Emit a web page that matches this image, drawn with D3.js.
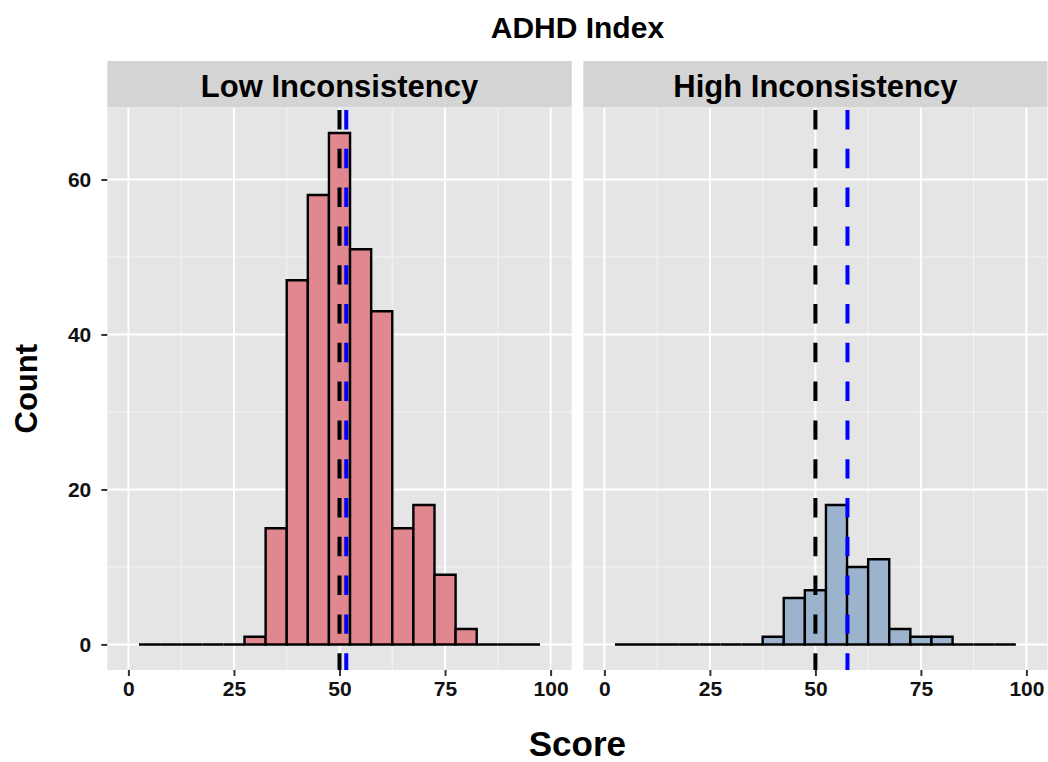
<!DOCTYPE html>
<html>
<head>
<meta charset="utf-8">
<script src="https://cdn.jsdelivr.net/npm/d3@7"></script>
<style>
  body { margin: 0; background: #fff; }
  text { font-family: "Liberation Sans", Arial, Helvetica, sans-serif; font-weight: bold; }
</style>
</head>
<body>
<script>
// histogram bins (width 5), one count per bin for each facet
var binCenters = [5, 10, 15, 20, 25, 30, 35, 40, 45, 50, 55, 60, 65, 70, 75, 80, 85, 90, 95];
var lowCounts  = [0, 0, 0, 0, 0, 1, 15, 47, 58, 66, 51, 43, 15, 18, 9, 2, 0, 0, 0];
var highCounts = [0, 0, 0, 0, 0, 0, 0, 1, 6, 7, 18, 10, 11, 2, 1, 1, 0, 0, 0];
var binWidth = 5;

var facetNames = ['Low Inconsistency', 'High Inconsistency'];
var refLines  = [50, 50];     // black dashed
var meanLines = [51.6, 57.6]; // blue dashed

var xTicks = [0, 25, 50, 75, 100];
var yTicks = [0, 20, 40, 60];

var W = 1048, H = 762;
var svg = d3.select('body').append('svg')
    .attr('width', W)
    .attr('height', H);

var panelTop = 107.4, panelBottom = 670;
var panelsX = [[107.3, 571.7], [583.3, 1047.5]];
var fills = ['#e1878f', '#9bb3cd'];

var y = d3.scaleLinear().domain([-3.3, 69.3]).range([panelBottom, panelTop]);

// title
svg.append('text')
    .attr('x', (panelsX[0][0] + panelsX[1][1]) / 2)
    .attr('y', 38)
    .attr('text-anchor', 'middle')
    .style('font-size', '30px')
    .text('ADHD Index');

facetNames.forEach(function(name, p) {
    var counts = p == 0 ? lowCounts : highCounts;
    var x = d3.scaleLinear().domain([-5, 105]).range(panelsX[p]);
    var g = svg.append('g');

    // strip
    g.append('rect')
        .attr('x', panelsX[p][0]).attr('y', 61)
        .attr('width', panelsX[p][1] - panelsX[p][0]).attr('height', panelTop - 61)
        .style('fill', '#d4d4d4');
    g.append('text')
        .attr('x', (panelsX[p][0] + panelsX[p][1]) / 2)
        .attr('y', 97)
        .attr('text-anchor', 'middle')
        .style('font-size', '31px')
        .text(name);

    // panel background
    g.append('rect')
        .attr('x', panelsX[p][0]).attr('y', panelTop)
        .attr('width', panelsX[p][1] - panelsX[p][0]).attr('height', panelBottom - panelTop)
        .style('fill', '#e5e5e5');

    // minor grid
    [12.5, 37.5, 62.5, 87.5].forEach(function(v) {
        g.append('line')
            .attr('x1', x(v)).attr('x2', x(v)).attr('y1', panelTop).attr('y2', panelBottom)
            .style('stroke', '#f5f5f5').style('stroke-width', 1);
    });
    [10, 30, 50].forEach(function(v) {
        g.append('line')
            .attr('x1', panelsX[p][0]).attr('x2', panelsX[p][1]).attr('y1', y(v)).attr('y2', y(v))
            .style('stroke', '#f5f5f5').style('stroke-width', 1);
    });
    // major grid
    xTicks.forEach(function(v) {
        g.append('line')
            .attr('x1', x(v)).attr('x2', x(v)).attr('y1', panelTop).attr('y2', panelBottom)
            .style('stroke', '#fff').style('stroke-width', 2);
    });
    yTicks.forEach(function(v) {
        g.append('line')
            .attr('x1', panelsX[p][0]).attr('x2', panelsX[p][1]).attr('y1', y(v)).attr('y2', y(v))
            .style('stroke', '#fff').style('stroke-width', 2);
    });

    // bars (paths so that empty bins still show as a flat line)
    g.selectAll('path.bar')
        .data(binCenters)
        .enter().append('path')
        .attr('class', 'bar')
        .attr('d', function(c, i) {
            var x0 = x(c - binWidth / 2), x1 = x(c + binWidth / 2);
            return 'M' + x0 + ',' + y(0) + 'V' + y(counts[i]) + 'H' + x1 + 'V' + y(0) + 'Z';
        })
        .style('fill', fills[p])
        .style('stroke', '#000')
        .style('stroke-width', 2.4)
        .style('stroke-linejoin', 'miter');

    // dashed reference lines
    [[refLines[p], '#000'], [meanLines[p], '#0000ff']].forEach(function(l) {
        g.append('line')
            .attr('x1', x(l[0])).attr('x2', x(l[0]))
            .attr('y1', panelTop).attr('y2', panelBottom)
            .style('stroke', l[1])
            .style('stroke-width', 4)
            .style('stroke-dasharray', '19.4,19.4')
            .style('stroke-dashoffset', 36.2);
    });

    // x axis
    var xa = svg.append('g')
        .attr('transform', 'translate(0,' + panelBottom + ')')
        .call(d3.axisBottom(x).tickValues(xTicks).tickSize(6).tickPadding(5));
    xa.select('.domain').remove();
    xa.selectAll('line').style('stroke', '#333').style('stroke-width', 2);
    xa.selectAll('text').style('font-size', '21px').style('fill', '#111')
        .style('font-family', '"Liberation Sans", Arial, sans-serif');
});

// y axis (left panel only)
var ya = svg.append('g')
    .attr('transform', 'translate(' + panelsX[0][0] + ',0)')
    .call(d3.axisLeft(y).tickValues(yTicks).tickSize(6).tickPadding(10));
ya.select('.domain').remove();
ya.selectAll('line').style('stroke', '#333').style('stroke-width', 2);
ya.selectAll('text').style('font-size', '21px').style('fill', '#111')
    .style('font-family', '"Liberation Sans", Arial, sans-serif');

// axis titles
svg.append('text')
    .attr('x', (panelsX[0][0] + panelsX[1][1]) / 2)
    .attr('y', 756)
    .attr('text-anchor', 'middle')
    .style('font-size', '35px')
    .text('Score');

svg.append('text')
    .attr('transform', 'translate(37,' + ((panelTop + panelBottom) / 2) + ') rotate(-90)')
    .attr('text-anchor', 'middle')
    .style('font-size', '31px')
    .text('Count');
</script>
</body>
</html>
